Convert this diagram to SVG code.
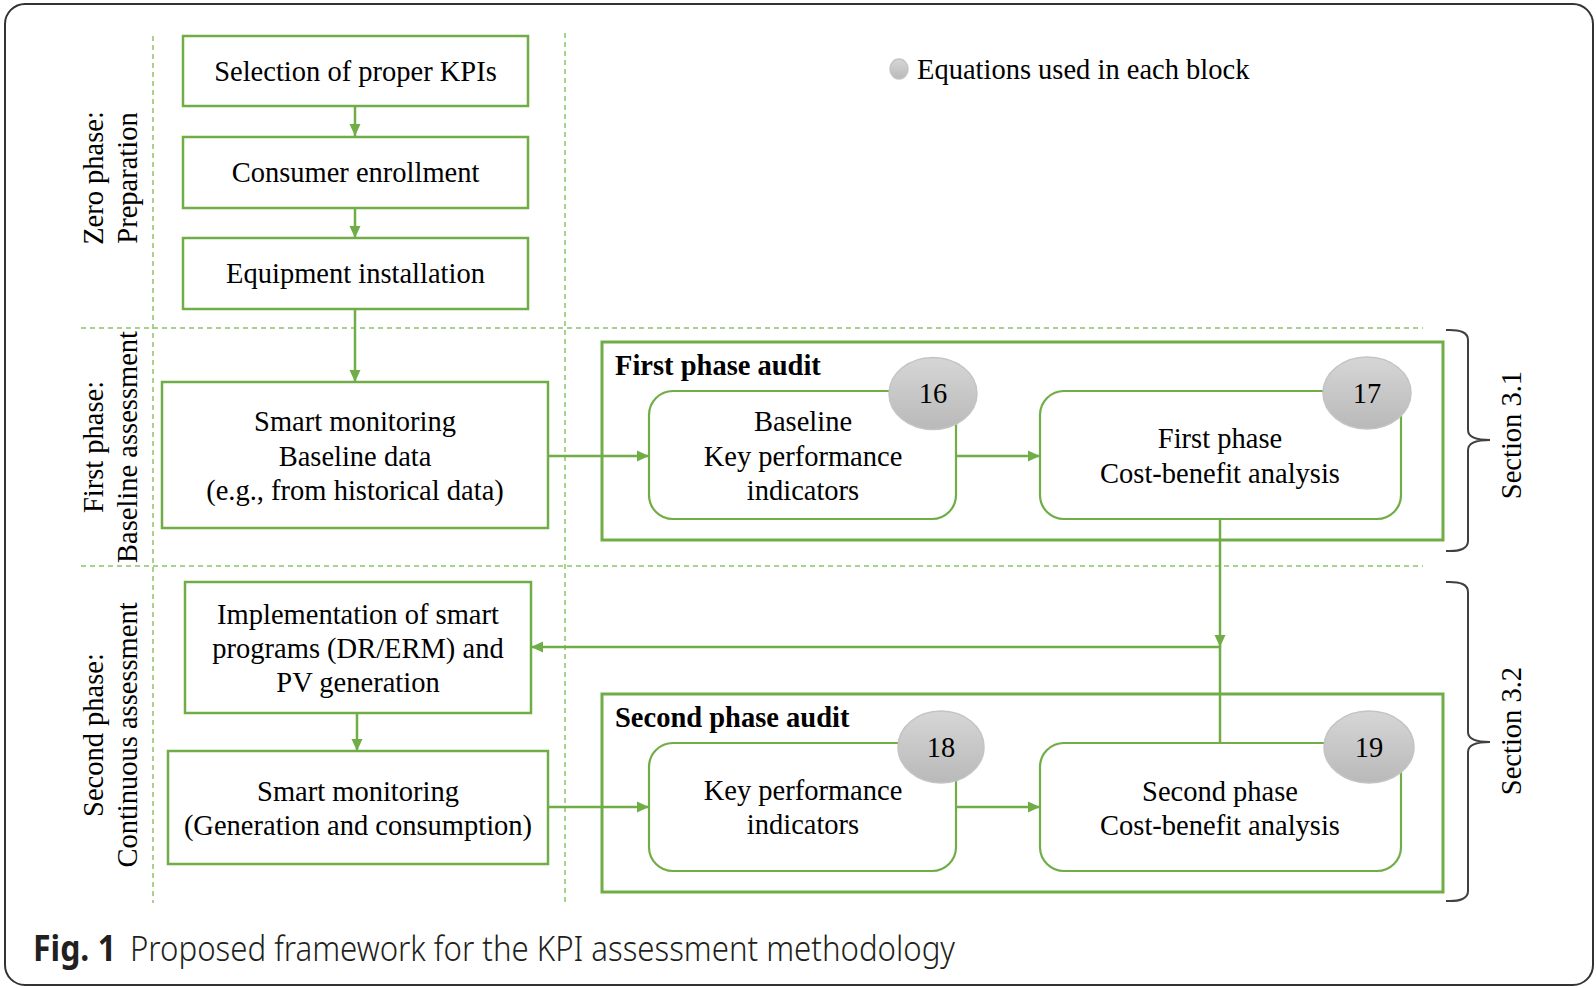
<svg xmlns="http://www.w3.org/2000/svg" width="1596" height="988" viewBox="0 0 1596 988">
<defs>
<linearGradient id="eqg" x1="0" y1="0" x2="0" y2="1">
<stop offset="0" stop-color="#d6d6d6"/>
<stop offset="1" stop-color="#b9b9b9"/>
</linearGradient>
<marker id="ah" markerUnits="userSpaceOnUse" markerWidth="14" markerHeight="12" refX="12" refY="6" orient="auto">
<path d="M0,0.5 L12,6 L0,11.5 Z" fill="#70ad47"/>
</marker>
<style>
.t{font-family:"Liberation Serif","Times New Roman",serif;font-size:28.5px;fill:#000;text-anchor:middle}
.tb{font-family:"Liberation Serif","Times New Roman",serif;font-size:28.5px;font-weight:bold;fill:#000}
.box{fill:#fff;stroke:#70ad47;stroke-width:2.5}
.rbox{fill:#fff;stroke:#70ad47;stroke-width:2.2}
.frame{fill:none;stroke:#70ad47;stroke-width:3}
.dash{stroke:#8cc46a;stroke-width:1.5;stroke-dasharray:5 4;fill:none}
.con{stroke:#70ad47;stroke-width:2.5;fill:none}
.eq{fill:url(#eqg);stroke:#c4c4c4;stroke-width:1.5}
.brace{fill:none;stroke:#404040;stroke-width:2}
</style>
</defs>
<rect x="0" y="0" width="1596" height="988" fill="#fff"/>
<rect id="outer" x="5" y="4" width="1588" height="981" rx="20" ry="20" fill="#fff" stroke="#333" stroke-width="2"/>

<g id="grid">
<line class="dash" x1="153" y1="36" x2="153" y2="903"/>
<line class="dash" x1="565" y1="33" x2="565" y2="903"/>
<line class="dash" x1="81" y1="328" x2="1423" y2="328"/>
<line class="dash" x1="81" y1="566" x2="1423" y2="566"/>
</g>

<g id="phase-labels">
<text class="t" transform="translate(103,178) rotate(-90)">Zero phase:</text>
<text class="t" transform="translate(137,178) rotate(-90)">Preparation</text>
<text class="t" transform="translate(103,447) rotate(-90)">First phase:</text>
<text class="t" transform="translate(137,447) rotate(-90)">Baseline assessment</text>
<text class="t" transform="translate(103,735) rotate(-90)">Second phase:</text>
<text class="t" transform="translate(137,735) rotate(-90)">Continuous assessment</text>
</g>

<g id="legend">
<ellipse class="eq" cx="899" cy="69" rx="9" ry="10"/>
<text class="t" x="917" y="78.5" style="text-anchor:start">Equations used in each block</text>
</g>

<g id="audit1">
<rect class="frame" x="602" y="342" width="841" height="198"/>
<text class="tb" x="615" y="375">First phase audit</text>
</g>
<g id="audit2">
<rect class="frame" x="602" y="694" width="841" height="198"/>
<text class="tb" x="615" y="727">Second phase audit</text>
</g>

<g id="connectors">
<line class="con" x1="355" y1="106" x2="355" y2="136" marker-end="url(#ah)"/>
<line class="con" x1="355" y1="208" x2="355" y2="238" marker-end="url(#ah)"/>
<line class="con" x1="355" y1="309" x2="355" y2="382" marker-end="url(#ah)"/>
<line class="con" x1="548" y1="456" x2="649" y2="456" marker-end="url(#ah)"/>
<line class="con" x1="956" y1="456" x2="1040" y2="456" marker-end="url(#ah)"/>
<line class="con" x1="1220" y1="519" x2="1220" y2="647" marker-end="url(#ah)"/>
<polyline class="con" points="1220,743 1220,647 531,647" marker-end="url(#ah)"/>
<line class="con" x1="357" y1="713" x2="357" y2="751" marker-end="url(#ah)"/>
<line class="con" x1="548" y1="807" x2="649" y2="807" marker-end="url(#ah)"/>
<line class="con" x1="956" y1="807" x2="1040" y2="807" marker-end="url(#ah)"/>
</g>

<g id="n-kpis">
<rect class="box" x="183" y="36" width="345" height="70"/>
<text class="t" x="355.5" y="80.5">Selection of proper KPIs</text>
</g>
<g id="n-enroll">
<rect class="box" x="183" y="137" width="345" height="71"/>
<text class="t" x="355.5" y="182">Consumer enrollment</text>
</g>
<g id="n-install">
<rect class="box" x="183" y="238" width="345" height="71"/>
<text class="t" x="355.5" y="283">Equipment installation</text>
</g>
<g id="n-baseline-data">
<rect class="box" x="162" y="382" width="386" height="146"/>
<text class="t" x="355" y="431">Smart monitoring</text>
<text class="t" x="355" y="465.5">Baseline data</text>
<text class="t" x="355" y="500">(e.g., from historical data)</text>
</g>
<g id="n-kpi1">
<rect class="rbox" x="649" y="391" width="307" height="128" rx="24" ry="24"/>
<text class="t" x="803" y="431">Baseline</text>
<text class="t" x="803" y="465.5">Key performance</text>
<text class="t" x="803" y="500">indicators</text>
<ellipse class="eq" cx="933" cy="393.5" rx="44" ry="36"/>
<text class="t" x="933" y="403">16</text>
</g>
<g id="n-cba1">
<rect class="rbox" x="1040" y="391" width="361" height="128" rx="24" ry="24"/>
<text class="t" x="1220" y="448">First phase</text>
<text class="t" x="1220" y="482.5">Cost-benefit analysis</text>
<ellipse class="eq" cx="1367" cy="393" rx="44" ry="36"/>
<text class="t" x="1367" y="402.5">17</text>
</g>
<g id="n-impl">
<rect class="box" x="185" y="582" width="346" height="131"/>
<text class="t" x="358" y="624">Implementation of smart</text>
<text class="t" x="358" y="658">programs (DR/ERM) and</text>
<text class="t" x="358" y="692">PV generation</text>
</g>
<g id="n-monitor2">
<rect class="box" x="168" y="751" width="380" height="113"/>
<text class="t" x="358" y="801">Smart monitoring</text>
<text class="t" x="358" y="835">(Generation and consumption)</text>
</g>
<g id="n-kpi2">
<rect class="rbox" x="649" y="743" width="307" height="128" rx="24" ry="24"/>
<text class="t" x="803" y="800">Key performance</text>
<text class="t" x="803" y="834">indicators</text>
<ellipse class="eq" cx="941" cy="747" rx="43" ry="36"/>
<text class="t" x="941" y="756.5">18</text>
</g>
<g id="n-cba2">
<rect class="rbox" x="1040" y="743" width="361" height="128" rx="24" ry="24"/>
<text class="t" x="1220" y="801">Second phase</text>
<text class="t" x="1220" y="835">Cost-benefit analysis</text>
<ellipse class="eq" cx="1369" cy="747" rx="45" ry="36"/>
<text class="t" x="1369" y="756.5">19</text>
</g>

<g id="sections">
<path class="brace" d="M1446,330 Q1468,329 1468,340 L1468,430 Q1468,440 1490,440 Q1468,440 1468,450 L1468,541 Q1468,552 1446,551"/>
<text class="t" transform="translate(1521,435) rotate(-90)">Section 3.1</text>
<path class="brace" d="M1446,582 Q1468,581 1468,592 L1468,732 Q1468,742 1490,742 Q1468,742 1468,752 L1468,891 Q1468,902 1446,901"/>
<text class="t" transform="translate(1521,731) rotate(-90)">Section 3.2</text>
</g>

<g id="caption">
<text x="33" y="961" font-family="'Noto Sans','Open Sans',sans-serif" font-size="35" font-weight="bold" fill="#231f20" textLength="83" lengthAdjust="spacingAndGlyphs">Fig. 1</text>
<text x="130" y="961" font-family="'Noto Sans','Open Sans',sans-serif" font-size="35" font-weight="300" fill="#231f20" textLength="825" lengthAdjust="spacingAndGlyphs">Proposed framework for the KPI assessment methodology</text>
</g>
</svg>
